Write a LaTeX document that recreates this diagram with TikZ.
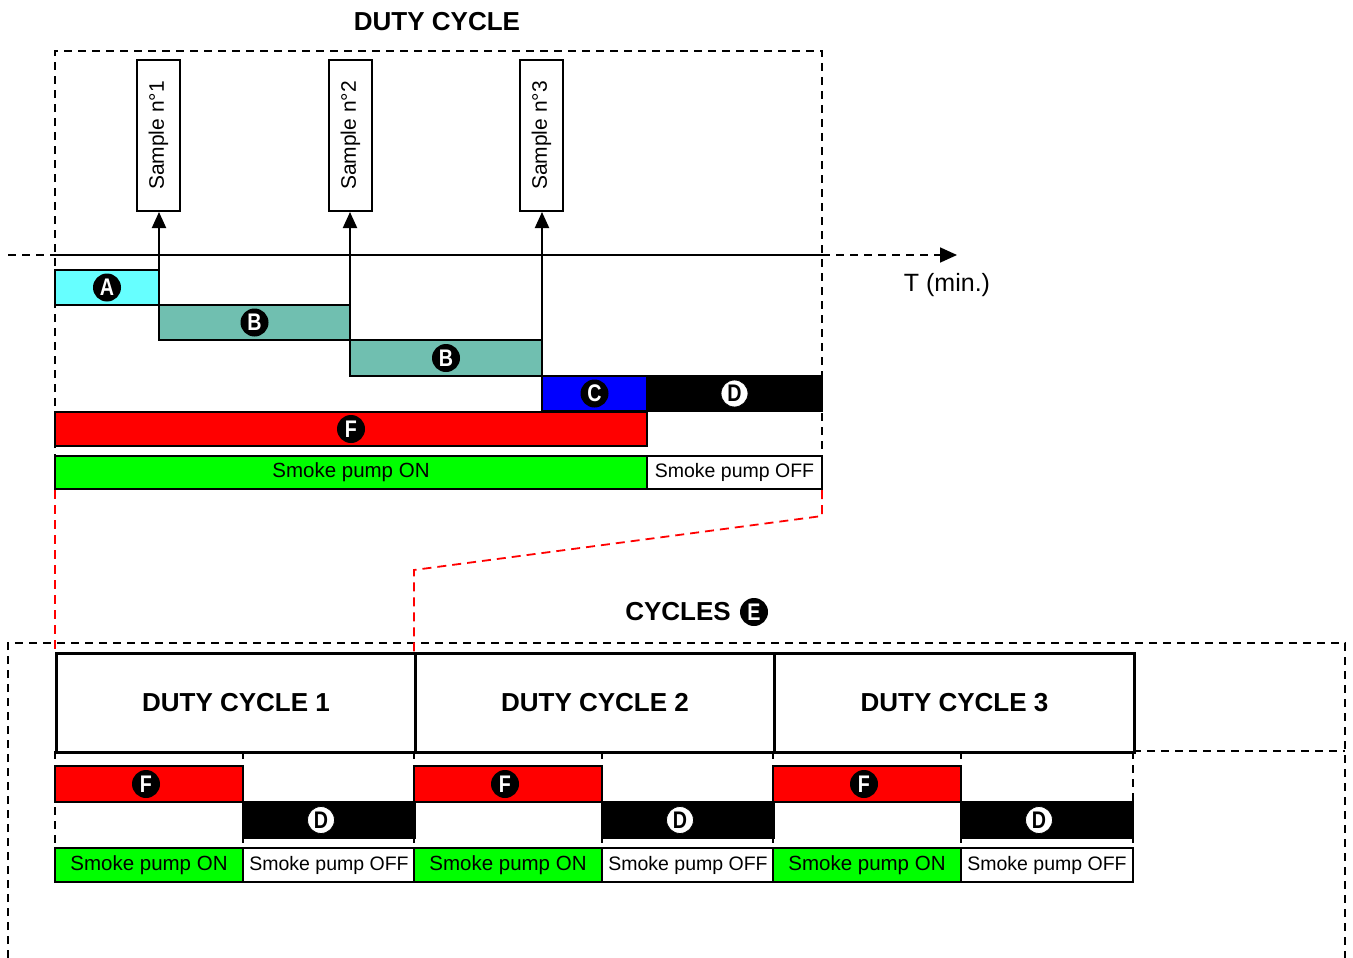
\documentclass[tikz,border=0pt]{standalone}
\usepackage{fontspec}
\usepackage{graphicx}
\setmainfont{Liberation Sans}
\usetikzlibrary{arrows.meta}
\definecolor{cyanA}{RGB}{102,255,255}
\definecolor{tealB}{RGB}{112,191,176}
\definecolor{redF}{RGB}{255,0,0}
\definecolor{greenON}{RGB}{0,255,0}
\definecolor{blueC}{RGB}{0,0,255}
\newcommand{\cl}[1]{\scalebox{0.82}[1]{#1}}
\begin{document}
\begin{tikzpicture}[x=1pt,y=-1pt,
  bar/.style={draw=black,line width=2.5pt,anchor=north west,inner sep=0pt,outer sep=0pt},
  dsh/.style={line width=1.8pt,dash pattern=on 8pt off 6pt},
  reddsh/.style={draw=redF,line width=1.8pt,dash pattern=on 9pt off 6pt},
  lab/.style={circle,fill=black,text=white,inner sep=0pt,minimum size=28pt,font=\bfseries\fontsize{24}{24}\selectfont},
  labw/.style={circle,fill=white,draw=black,line width=0.8pt,text=black,inner sep=0pt,minimum size=27pt,font=\bfseries\fontsize{24}{24}\selectfont},
  sbox/.style={draw=black,line width=2pt,inner sep=0pt,minimum width=43pt,minimum height=151pt,font=\fontsize{21}{21}\selectfont},
  arr/.style={line width=2pt,-{Triangle[length=16pt,width=14pt]}},
  ontxt/.style={font=\fontsize{20.5}{20.5}\selectfont},
  offtxt/.style={font=\fontsize{19.5}{19.5}\selectfont},
  title/.style={font=\bfseries\fontsize{26}{26}\selectfont},
  dcbox/.style={draw=black,line width=3pt,anchor=north west,inner sep=0pt,minimum width=359pt,minimum height=99pt,font=\bfseries\fontsize{26}{26}\selectfont},
]
\useasboundingbox (0,0) rectangle (1353,958);

% ---------- top: one duty cycle ----------
\node[title] (t1) at (437,22) {DUTY CYCLE};
\draw[dsh] (55,490) -- (55,51) -- (822,51) -- (822,490);

% time axis
\coordinate (axL) at (8,255);
\coordinate (ax0) at (55,255);
\coordinate (ax1) at (822,255);
\coordinate (axR) at (957,255);
\draw[dsh] (axL) -- (ax0);
\draw[line width=2pt] (ax0) -- (ax1);
\draw[dsh,-{Triangle[length=17pt,width=15pt]}] (ax1) -- (axR);
\node[font=\fontsize{25}{25}\selectfont] (tmin) at (947,285) {T (min.)};

% bars
\node[bar,fill=cyanA,minimum width=104pt,minimum height=35pt] (A) at (55,270) {};
\node[bar,fill=tealB,minimum width=191pt,minimum height=35pt] (B1) at (159,305) {};
\node[bar,fill=tealB,minimum width=192pt,minimum height=36pt] (B2) at (350,340) {};
\node[bar,fill=blueC,minimum width=105pt,minimum height=35pt] (C) at (542,376) {};
\node[bar,fill=black,minimum width=175pt,minimum height=35pt] (D) at (647,376) {};
\node[bar,fill=redF,minimum width=592pt,minimum height=34pt] (F) at (55,412) {};
\node[bar,fill=greenON,minimum width=592pt,minimum height=33pt,ontxt] (ON) at (55,456) {Smoke pump ON};
\node[bar,fill=white,minimum width=175pt,minimum height=33pt,offtxt] (OFF) at (647,456) {Smoke pump OFF};

\node[lab] (lA) at (A.center) {\cl{A}};
\node[lab] (lB1) at (B1.center) {\cl{B}};
\node[lab] (lB2) at (B2.center) {\cl{B}};
\node[lab] (lC) at (C.center) {\cl{C}};
\node[labw] (lD) at (D.center) {\cl{D}};
\node[lab] (lF) at (F.center) {\cl{F}};

% samples
\node[sbox] (S1) at (158.5,135.5) {\rotatebox{90}{Sample n°1}};
\node[sbox] (S2) at (350.5,135.5) {\rotatebox{90}{Sample n°2}};
\node[sbox] (S3) at (541.5,135.5) {\rotatebox{90}{Sample n°3}};
\draw[arr] (A.south east) -- (A.south east |- S1.south);
\draw[arr] (B1.south east) -- (B1.south east |- S2.south);
\draw[arr] (B2.south east) -- (B2.south east |- S3.south);

% ---------- bottom: cycles ----------
\draw[dsh] (8,958) -- (8,643) -- (1345,643) -- (1345,958);
\draw[dsh] (1133,751) -- (1345,751);
\node[title] (t2) at (678,612) {CYCLES};
\node[lab] (lE) at (754,612) {\cl{E}};

% red zoom lines
\draw[reddsh] (55,490) -- (55,652);
\draw[reddsh] (822,490) -- (822,516) -- (414,570) -- (414,652);

% duty cycle boxes
\node[dcbox] (DC1) at (55,652) {\raisebox{2pt}{DUTY CYCLE 1}};
\node[dcbox] (DC2) at (414,652) {\raisebox{2pt}{DUTY CYCLE 2}};
\node[dcbox,minimum width=360pt] (DC3) at (773,652) {\raisebox{2pt}{DUTY CYCLE 3}};

% dashed separators
\foreach \xx in {55,243,414,602,773,961,1133}
  \draw[dsh] (\xx,751) -- (\xx,848);

\foreach \i/\xo in {1/55,2/414,3/773}{
  \node[bar,fill=redF,minimum width=188pt,minimum height=36pt] (F\i) at (\xo,766) {};
  \node[bar,fill=black,minimum width=172pt,minimum height=36pt] (D\i) at (\xo+188,802) {};
  \node[bar,fill=greenON,minimum width=188pt,minimum height=34pt,ontxt] (ON\i) at (\xo,848) {Smoke pump ON};
  \node[bar,fill=white,minimum width=172pt,minimum height=34pt,offtxt] (OFF\i) at (\xo+188,848) {Smoke pump OFF};
  \node[lab] (lF\i) at ([xshift=-3pt]F\i.center) {\cl{F}};
  \node[labw] (lD\i) at ([xshift=-8pt]D\i.center) {\cl{D}};
}
\end{tikzpicture}
\end{document}
